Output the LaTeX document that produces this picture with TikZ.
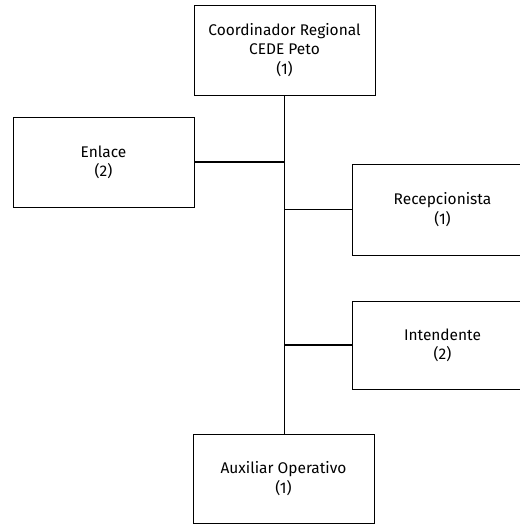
\documentclass[tikz,border=0pt]{standalone}
\usepackage{fontspec}
\setmainfont{Fira Sans}
\usepackage{tikz}

\begin{document}
\begin{tikzpicture}[x=0.03cm,y=-0.03cm]
  \tikzstyle{p} = [rectangle, draw, line width=0.7pt, fill=white, align=center, inner sep=0pt, minimum width=5.43cm, font=\fontsize{13.2}{16.5}\selectfont]
  \tikzstyle{e} = [line width=1.5pt];
  \useasboundingbox (0,0) rectangle (519,524);

  \node[p, minimum height=2.7cm](p1) at (284.5,50){Coordinador Regional\\CEDE Peto\\(1)};
  \node[p, minimum height=2.7cm](p2) at (103.5,162){Enlace\\(2)};
  \node[p, minimum height=2.73cm](p3) at (442.5,209.5){Recepcionista\\(1)};
  \node[p, minimum height=2.64cm](p4) at (442.5,345){Intendente\\(2)};
  \node[p, minimum height=2.67cm](p5) at (283.5,478.5){Auxiliar Operativo\\(1)};

  \draw[e](p1.south)--(p1.south |- p5.north);
  \draw[e](p2.east)--(p2.east -| p1.south);
  \draw[e](p3.west)--(p3.west -| p1.south);
  \draw[e](p4.west)--(p4.west -| p1.south);

\end{tikzpicture}
\end{document}
